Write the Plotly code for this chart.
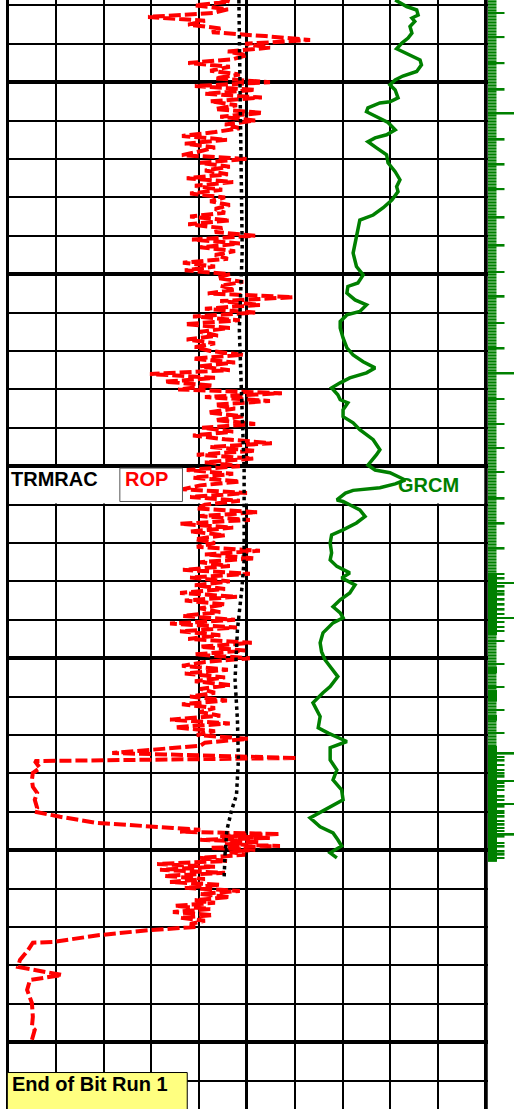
import numpy as np
import plotly.graph_objects as go

# depth window shown (ft, increasing downwards)
depth_top = 8228.6
depth_bottom = 8517.4

# ROP, one reading per foot from 8228 ft down to 8422 ft
rop_start = 8228
rop = [
    44.0,
    46.4, 39.1, 46.0, 42.9, 29.3, 41.2, 37.7, 44.4, 42.7, 53.8,
    63.2, 49.6, 54.8, 46.0, 50.0, 47.1, 37.7, 46.4, 42.3, 48.5,
    43.3, 54.8, 39.1, 51.7, 41.2, 53.1, 42.3, 47.9, 43.3, 53.3,
    44.4, 51.7, 45.4, 48.5, 43.3, 36.4, 45.8, 37.0, 43.3, 40.2,
    36.4, 50.0, 40.2, 46.4, 41.2, 46.0, 37.4, 47.1, 39.1, 44.8,
    38.1, 45.4, 42.3, 46.4, 43.3, 45.4, 38.1, 46.4, 37.7, 44.8,
    43.3, 51.7, 38.5, 48.5, 40.2, 47.5, 43.3, 46.0, 36.6, 43.3,
    37.0, 46.4, 43.7, 49.2, 44.4, 47.5, 41.8, 59.6, 44.4, 52.7,
    41.2, 51.7, 38.7, 48.5, 37.0, 46.4, 40.2, 43.9, 37.4, 43.3,
    39.1, 42.3, 49.2, 38.7, 47.5, 40.2, 46.4, 29.7, 43.3, 32.8,
    42.9, 35.6, 57.3, 41.2, 54.8, 43.3, 47.5, 41.8, 49.2, 43.3,
    51.7, 40.6, 47.1, 38.7, 45.4, 55.2, 42.3, 51.7, 39.5, 51.3,
    41.2, 48.5, 37.4, 47.1, 38.7, 48.5, 40.2, 36.6, 50.0, 38.1,
    48.5, 41.2, 39.5, 52.1, 40.2, 50.6, 36.0, 47.1, 38.1, 45.4,
    39.1, 43.3, 39.5, 52.7, 41.2, 51.7, 40.2, 46.4, 36.6, 50.6,
    38.1, 46.4, 39.1, 45.4, 36.0, 47.9, 37.0, 45.4, 40.2, 44.4,
    36.6, 47.5, 33.9, 47.9, 36.0, 44.4, 37.7, 51.0, 40.2, 49.6,
    39.1, 50.6, 41.2, 36.4, 46.0, 37.0, 45.4, 39.1, 46.4, 40.2,
    43.3, 38.1, 45.8, 36.4, 43.3, 40.2, 44.4, 33.9, 46.4, 34.9,
    43.3, 39.5, 50.2, 41.2,
]

# ROP below 8422 ft (bit trip and new bit), irregular depths
rop_tail_depth = [
    8422.8, 8424.7, 8426.0, 8426.8, 8428.6, 8429.9, 8431.7, 8433.5, 8435.1, 8436.9,
    8439.0, 8440.0, 8440.8, 8441.3, 8442.9, 8443.4, 8444.2, 8444.7, 8445.2, 8445.8,
    8446.3, 8446.8, 8447.3, 8447.8, 8448.4, 8448.9, 8449.4, 8449.9, 8450.4, 8451.2,
    8452.0, 8452.8, 8453.6, 8454.3, 8455.1, 8455.9, 8456.7, 8457.5, 8458.3, 8459.0,
    8459.8, 8460.6, 8461.4, 8462.2, 8463.0, 8463.7, 8464.5, 8465.3, 8466.1, 8466.9,
    8467.6, 8468.4, 8469.2, 8470.0, 8470.8, 8472.1, 8473.9, 8474.1, 8476.0, 8478.6,
    8480.4, 8482.5, 8483.8, 8486.4, 8489.8, 8493.4, 8496.0, 8496.8, 8499.4,
]
rop_tail = [
    40.2, 21.8, 60.5, 5.6, 6.7, 5.2, 5.0, 5.2, 6.1, 5.6,
    6.1, 5.6, 8.8, 10.9, 18.6, 26.2, 34.5, 40.2, 36.0, 56.9,
    44.4, 54.8, 40.2, 52.7, 45.4, 56.9, 42.3, 51.7, 46.4, 49.6,
    40.2, 45.8, 31.2, 43.3, 31.8, 45.4, 32.8, 41.2, 33.9, 44.4,
    37.0, 48.5, 40.2, 46.4, 39.1, 43.3, 34.9, 42.3, 34.5, 42.9,
    36.0, 41.2, 38.1, 39.5, 29.7, 19.2, 9.4, 5.2, 4.2, 2.5,
    2.1, 11.3, 4.6, 4.0, 5.0, 5.2, 5.0, 5.6, 5.0,
]

trmrac_depth = [8228.6, 8249.4, 8270.2, 8293.7, 8314.5, 8337.9, 8351.0, 8374.4, 8382.2,
                8392.6, 8405.6, 8416.1, 8426.5, 8435.6, 8439.5, 8444.7, 8451.2, 8457.7]
trmrac = [48.3, 48.5, 48.7, 49.0, 48.4, 49.0, 49.4, 49.4, 48.9,
          48.0, 47.5, 48.0, 48.2, 47.8, 46.8, 45.8, 45.4, 45.2]

grcm_depth = [
    8228.6, 8230.3, 8231.2, 8232.5, 8233.3, 8234.2, 8235.5, 8237.2, 8238.5, 8239.8,
    8241.3, 8242.4, 8244.2, 8245.5, 8247.2, 8248.4, 8249.4, 8250.7, 8252.0, 8254.1,
    8255.1, 8255.4, 8256.7, 8257.7, 8259.0, 8260.5, 8262.4, 8263.7, 8264.5, 8265.5,
    8267.1, 8268.9, 8271.0, 8273.3, 8275.4, 8277.2, 8278.5, 8280.7, 8282.7, 8284.6,
    8285.9, 8288.5, 8291.1, 8294.5, 8298.0, 8300.2, 8302.3, 8303.2, 8304.9, 8306.7,
    8308.0, 8309.7, 8310.6, 8312.3, 8314.0, 8316.6, 8319.2, 8321.0, 8322.8, 8324.4,
    8325.7, 8327.0, 8328.3, 8329.6, 8331.4, 8332.7, 8333.5, 8335.3, 8337.1, 8338.7,
    8340.5, 8341.8, 8343.1, 8345.7, 8347.0, 8349.7, 8351.0, 8351.7, 8353.6, 8354.6,
    8355.6, 8356.3, 8357.0, 8358.8, 8359.2, 8360.5, 8361.4, 8363.1, 8364.8, 8366.6,
    8367.9, 8370.0, 8372.6, 8374.4, 8376.1, 8377.8, 8379.1, 8380.9, 8383.0, 8384.8,
    8386.6, 8388.2, 8389.5, 8390.8, 8393.4, 8396.0, 8398.3, 8400.4, 8403.0, 8404.8,
    8407.4, 8409.0, 8411.6, 8415.2, 8418.1, 8419.5, 8421.7, 8423.3, 8426.5, 8429.1,
    8431.7, 8434.3, 8436.9, 8440.0, 8441.6, 8443.9, 8445.5, 8447.3, 8448.9, 8450.7,
    8452.0,
]
grcm = [
    81.0, 83.4, 85.5, 85.8, 84.5, 85.1, 84.1, 84.5, 83.7, 82.4,
    81.3, 83.1, 86.2, 86.5, 85.5, 82.6, 81.0, 79.9, 81.0, 81.6,
    79.9, 77.8, 75.3, 75.0, 77.1, 79.5, 81.0, 79.2, 76.8, 75.3,
    77.1, 79.2, 79.5, 81.0, 82.0, 81.3, 81.6, 80.3, 78.5, 76.4,
    73.6, 73.2, 72.9, 72.2, 72.9, 74.3, 73.2, 71.1, 70.9, 72.6,
    75.0, 73.6, 70.9, 69.5, 69.5, 70.1, 70.9, 72.2, 74.3, 76.8,
    75.0, 71.5, 69.5, 67.7, 69.0, 69.5, 71.1, 70.1, 70.1, 72.2,
    73.6, 75.0, 76.4, 77.8, 77.1, 75.3, 76.8, 79.9, 83.1, 81.0,
    77.8, 72.2, 70.6, 68.8, 70.1, 72.2, 73.6, 74.7, 72.9, 70.1,
    67.7, 67.4, 67.7, 67.4, 68.8, 71.5, 69.8, 72.6, 71.5, 69.5,
    68.0, 69.5, 70.1, 68.0, 65.9, 65.3, 65.6, 66.3, 68.0, 69.0,
    67.4, 65.9, 63.8, 65.3, 64.9, 67.0, 70.9, 67.4, 67.4, 68.8,
    68.0, 69.8, 70.1, 65.3, 63.2, 65.3, 68.0, 69.0, 69.8, 67.4,
    68.8,
]

# right-hand strip: hatched / solid intervals (top, bottom) and tick marks
strip_hatch = [(8228.0, 8453.0)]
strip_solid = [(8377.8, 8394.0), (8402.2, 8403.9), (8408.3, 8411.3),
               (8414.8, 8416.3), (8422.9, 8453.0)]
tick_mid_depth = [
    8232.0, 8238.3, 8245.1, 8252.0, 8265.0, 8271.5, 8277.9, 8285.3, 8292.6, 8299.4,
    8305.9, 8312.7, 8319.4, 8332.5, 8339.0, 8345.3, 8351.5, 8358.5, 8365.0, 8371.5,
    8378.1, 8379.3, 8381.4, 8382.7, 8383.5, 8384.8, 8386.1, 8387.4, 8388.5, 8390.6,
    8391.9, 8392.9, 8395.5, 8401.5, 8407.5, 8413.5, 8419.5, 8425.7, 8426.7, 8427.8,
    8429.1, 8430.1, 8430.9, 8432.5, 8433.5, 8434.3, 8436.1, 8436.9, 8438.7, 8439.8,
    8440.3, 8441.3, 8442.4, 8443.4, 8444.2, 8445.0, 8446.5, 8448.1, 8449.1, 8450.4,
    8451.2, 8452.0,
]
tick_long_depth = [8258.2, 8325.9, 8380.4, 8389.5, 8424.9, 8432.0, 8438.0, 8446.0]

# ---------------------------------------------------------------- layout
W, H = 514, 1109
TRACK_L, TRACK_R = 8, 486          # track borders in px
PAD = 0.4
ppu = (TRACK_R - TRACK_L) / 100.0
x_dom = [(TRACK_L - PAD * ppu) / W, (TRACK_R + PAD * ppu) / W]
FONT = "Liberation Sans, Arial, sans-serif"
GREEN = "#008000"

rop_depth = list(np.arange(len(rop)) + rop_start) + rop_tail_depth
rop_all = rop + rop_tail

fig = go.Figure()

fig.add_trace(go.Scatter(
    x=rop_all, y=rop_depth, mode="lines", name="ROP",
    line=dict(color="#FF0000", width=4, dash="12px,4px"),
))
fig.add_trace(go.Scatter(
    x=trmrac, y=trmrac_depth, mode="lines", name="TRMRAC",
    line=dict(color="black", width=3.5, dash="dot"),
))
fig.add_trace(go.Scatter(
    x=grcm, y=grcm_depth, mode="lines", name="GRCM",
    line=dict(color=GREEN, width=3.5),
))

# strip on the right
fig.add_trace(go.Bar(
    orientation="h", xaxis="x2", yaxis="y2", base=0,
    y=[(a + b) / 2 for a, b in strip_hatch], width=[b - a for a, b in strip_hatch],
    x=[8.5] * len(strip_hatch),
    marker=dict(color="#6fb86f", line=dict(width=0),
                pattern=dict(shape="-", fgcolor=GREEN, bgcolor="#7fc27f",
                             size=3, solidity=0.6, fillmode="replace")),
))
fig.add_trace(go.Bar(
    orientation="h", xaxis="x2", yaxis="y2", base=0,
    y=[(a + b) / 2 for a, b in strip_solid], width=[b - a for a, b in strip_solid],
    x=[9] * len(strip_solid),
    marker=dict(color=GREEN, line=dict(width=0)),
))
fig.add_trace(go.Bar(
    orientation="h", xaxis="x2", yaxis="y2", base=0,
    y=tick_mid_depth, width=0.45, x=[16.5] * len(tick_mid_depth),
    marker=dict(color=GREEN, line=dict(width=0)),
))
fig.add_trace(go.Bar(
    orientation="h", xaxis="x2", yaxis="y2", base=0,
    y=tick_long_depth, width=0.45, x=[26] * len(tick_long_depth),
    marker=dict(color=GREEN, line=dict(width=0)),
))

shapes = [
    # label row: no vertical grid inside it
    dict(type="rect", xref="x", yref="y", x0=0, x1=100, y0=8350.5, y1=8359.7,
         fillcolor="white", line=dict(width=0), layer="between"),
    # track borders
    dict(type="line", xref="x", yref="paper", x0=0, x1=0, y0=0, y1=1,
         line=dict(color="black", width=2), layer="above"),
    dict(type="line", xref="x", yref="paper", x0=100, x1=100, y0=0, y1=1,
         line=dict(color="black", width=3.5), layer="above"),
    # ROP legend box
    dict(type="rect", xref="x", yref="y", x0=23.4, x1=36.5, y0=8350.5, y1=8359.2,
         fillcolor="rgba(0,0,0,0)", line=dict(color="#555555", width=1), layer="above"),
    # bit run box
    dict(type="rect", xref="x", yref="y", x0=-0.15, x1=37.5, y0=8507.9, y1=8525,
         fillcolor="#FFFF80", line=dict(color="black", width=1), layer="above"),
]

def label(text, x, y, color):
    return dict(text=f"<b>{text}</b>", x=x, y=y, xref="x", yref="y",
                xanchor="left", yanchor="middle", showarrow=False,
                font=dict(family=FONT, size=20, color=color))

annotations = [
    label("TRMRAC", 0.2, 8353.3, "black"),
    label("ROP", 24.1, 8353.4, "#FF0000"),
    label("GRCM", 81.2, 8355.0, GREEN),
    label("End of Bit Run 1", 0.5, 8511.0, "black"),
]

fig.update_layout(
    width=W, height=H,
    margin=dict(l=0, r=0, t=0, b=0),
    paper_bgcolor="white", plot_bgcolor="white",
    showlegend=False, barmode="overlay",
    font=dict(family=FONT),
    xaxis=dict(domain=x_dom, range=[-PAD, 100 + PAD], tick0=0, dtick=50,
               showgrid=True, gridcolor="black", gridwidth=3,
               minor=dict(dtick=10, showgrid=True, gridcolor="black", gridwidth=2),
               showticklabels=False, ticks="", zeroline=False, showline=False),
    yaxis=dict(range=[depth_bottom, depth_top], tick0=8250, dtick=50,
               showgrid=True, gridcolor="black", gridwidth=3.5,
               minor=dict(dtick=10, showgrid=True, gridcolor="black", gridwidth=2),
               showticklabels=False, ticks="", zeroline=False, showline=False),
    xaxis2=dict(domain=[488 / W, 1], range=[0, 26], anchor="y2", visible=False),
    yaxis2=dict(matches="y", anchor="x2", visible=False, showgrid=False),
    shapes=shapes,
    annotations=annotations,
)

fig.write_html("out.html", config={"displayModeBar": False},
               post_script="document.body.style.margin = '0';")
